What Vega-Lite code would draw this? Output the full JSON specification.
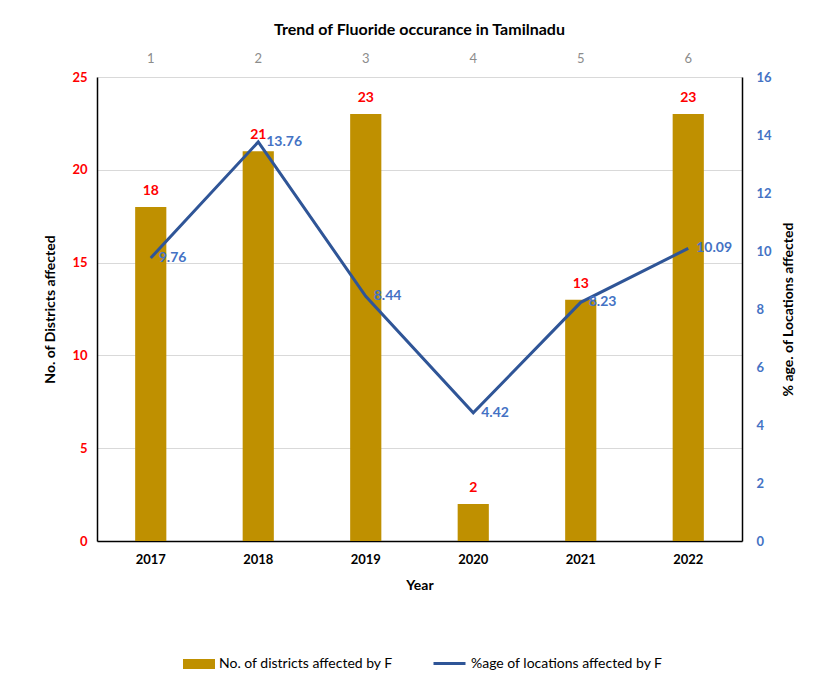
{
  "$schema": "https://vega.github.io/schema/vega-lite/v6.json",
  "width": 645,
  "height": 464,
  "autosize": "none",
  "padding": {"left": 97, "top": 77, "right": 92, "bottom": 146},
  "background": "white",
  "config": {
    "font": "Lato",
    "view": {"stroke": null},
    "axis": {"ticks": false, "labelFont": "Lato", "titleFont": "Lato"}
  },
  "title": {
    "text": "Trend of Fluoride occurance in Tamilnadu",
    "fontSize": 16,
    "fontWeight": "bold",
    "color": "#000000",
    "offset": 14,
    "anchor": "middle"
  },
  "data": {
    "values": [
      {"year": "2017", "districts": 18, "pct": 9.76, "idx": 1},
      {"year": "2018", "districts": 21, "pct": 13.76, "idx": 2},
      {"year": "2019", "districts": 23, "pct": 8.44, "idx": 3},
      {"year": "2020", "districts": 2, "pct": 4.42, "idx": 4},
      {"year": "2021", "districts": 13, "pct": 8.23, "idx": 5},
      {"year": "2022", "districts": 23, "pct": 10.09, "idx": 6}
    ]
  },
  "layer": [
    {
      "encoding": {
        "x": {
          "field": "year",
          "type": "nominal",
          "scale": {"paddingInner": 0, "paddingOuter": 0},
          "axis": {
            "orient": "bottom",
            "title": "Year",
            "labelAngle": 0,
            "labelFontSize": 13,
            "labelFontWeight": "bold",
            "labelColor": "#000000",
            "labelPadding": 12,
            "titleFontSize": 14,
            "titleFontWeight": "bold",
            "titleColor": "#000000",
            "titlePadding": 12,
            "domainColor": "#000000",
            "domainWidth": 1.5,
            "grid": false
          }
        },
        "y": {
          "field": "districts",
          "type": "quantitative",
          "scale": {"domain": [0, 25], "nice": false},
          "axis": {
            "orient": "left",
            "title": "No. of Districts affected",
            "values": [0, 5, 10, 15, 20, 25],
            "labelFontSize": 13,
            "labelFontWeight": "bold",
            "labelColor": "#FF0000",
            "labelPadding": 10,
            "titleFontSize": 14,
            "titleFontWeight": "bold",
            "titleColor": "#000000",
            "titlePadding": 14,
            "domainColor": "#000000",
            "domainWidth": 1.5,
            "grid": true,
            "gridColor": "#D9D9D9",
            "gridWidth": 1
          }
        }
      },
      "layer": [
        {
          "mark": {"type": "bar", "width": {"band": 0.29}},
          "encoding": {
            "color": {
              "datum": "No. of districts affected by F",
              "type": "nominal",
              "scale": {"range": ["#BF9000"]},
              "legend": {
                "orient": "none",
                "legendX": 86,
                "legendY": 571,
                "title": null,
                "symbolType": "M-1,-0.3125H1V0.3125H-1Z",
                "symbolSize": 1024,
                "symbolStrokeWidth": 0,
                "labelFontSize": 14,
                "labelLimit": 0,
                "labelColor": "#000000",
                "labelFont": "Lato"
              }
            }
          }
        },
        {
          "mark": {"type": "text", "baseline": "bottom", "dy": -9, "fontSize": 14, "fontWeight": "bold", "color": "#FF0000"},
          "encoding": {"text": {"field": "districts", "type": "quantitative"}}
        }
      ]
    },
    {
      "encoding": {
        "x": {
          "field": "year",
          "type": "nominal",
          "axis": {
            "orient": "top",
            "title": null,
            "labelExpr": "indexof(['2017','2018','2019','2020','2021','2022'], datum.value) + 1",
            "labelAngle": 0,
            "labelFontSize": 13,
            "labelColor": "#8C8C8C",
            "labelPadding": 12,
            "domain": false,
            "grid": false
          }
        },
        "y": {
          "field": "pct",
          "type": "quantitative",
          "scale": {"domain": [0, 16], "nice": false},
          "axis": {
            "orient": "right",
            "title": "% age. of Locations affected",
            "titleAngle": 270,
            "values": [0, 2, 4, 6, 8, 10, 12, 14, 16],
            "labelFontSize": 13,
            "labelFontWeight": "bold",
            "labelColor": "#4472C4",
            "labelPadding": 14,
            "titleFontSize": 14,
            "titleFontWeight": "bold",
            "titleColor": "#000000",
            "titlePadding": 24,
            "domainColor": "#000000",
            "domainWidth": 1.5,
            "grid": false
          }
        }
      },
      "layer": [
        {
          "mark": {"type": "line", "strokeWidth": 3},
          "encoding": {
            "stroke": {
              "datum": "%age of locations affected by F",
              "type": "nominal",
              "scale": {"range": ["#2F5597"]},
              "legend": {
                "orient": "none",
                "legendX": 335,
                "legendY": 569,
                "title": null,
                "symbolType": "stroke",
                "symbolSize": 1024,
                "symbolStrokeWidth": 3,
                "labelFontSize": 14,
                "labelLimit": 0,
                "labelColor": "#000000",
                "labelFont": "Lato"
              }
            }
          }
        },
        {
          "mark": {"type": "text", "align": "left", "baseline": "middle", "dx": 8, "fontSize": 14, "fontWeight": "bold", "color": "#4472C4"},
          "encoding": {"text": {"field": "pct", "type": "quantitative", "format": ".2f"}}
        }
      ]
    }
  ],
  "resolve": {
    "scale": {"y": "independent"},
    "axis": {"x": "independent", "y": "independent"}
  }
}
